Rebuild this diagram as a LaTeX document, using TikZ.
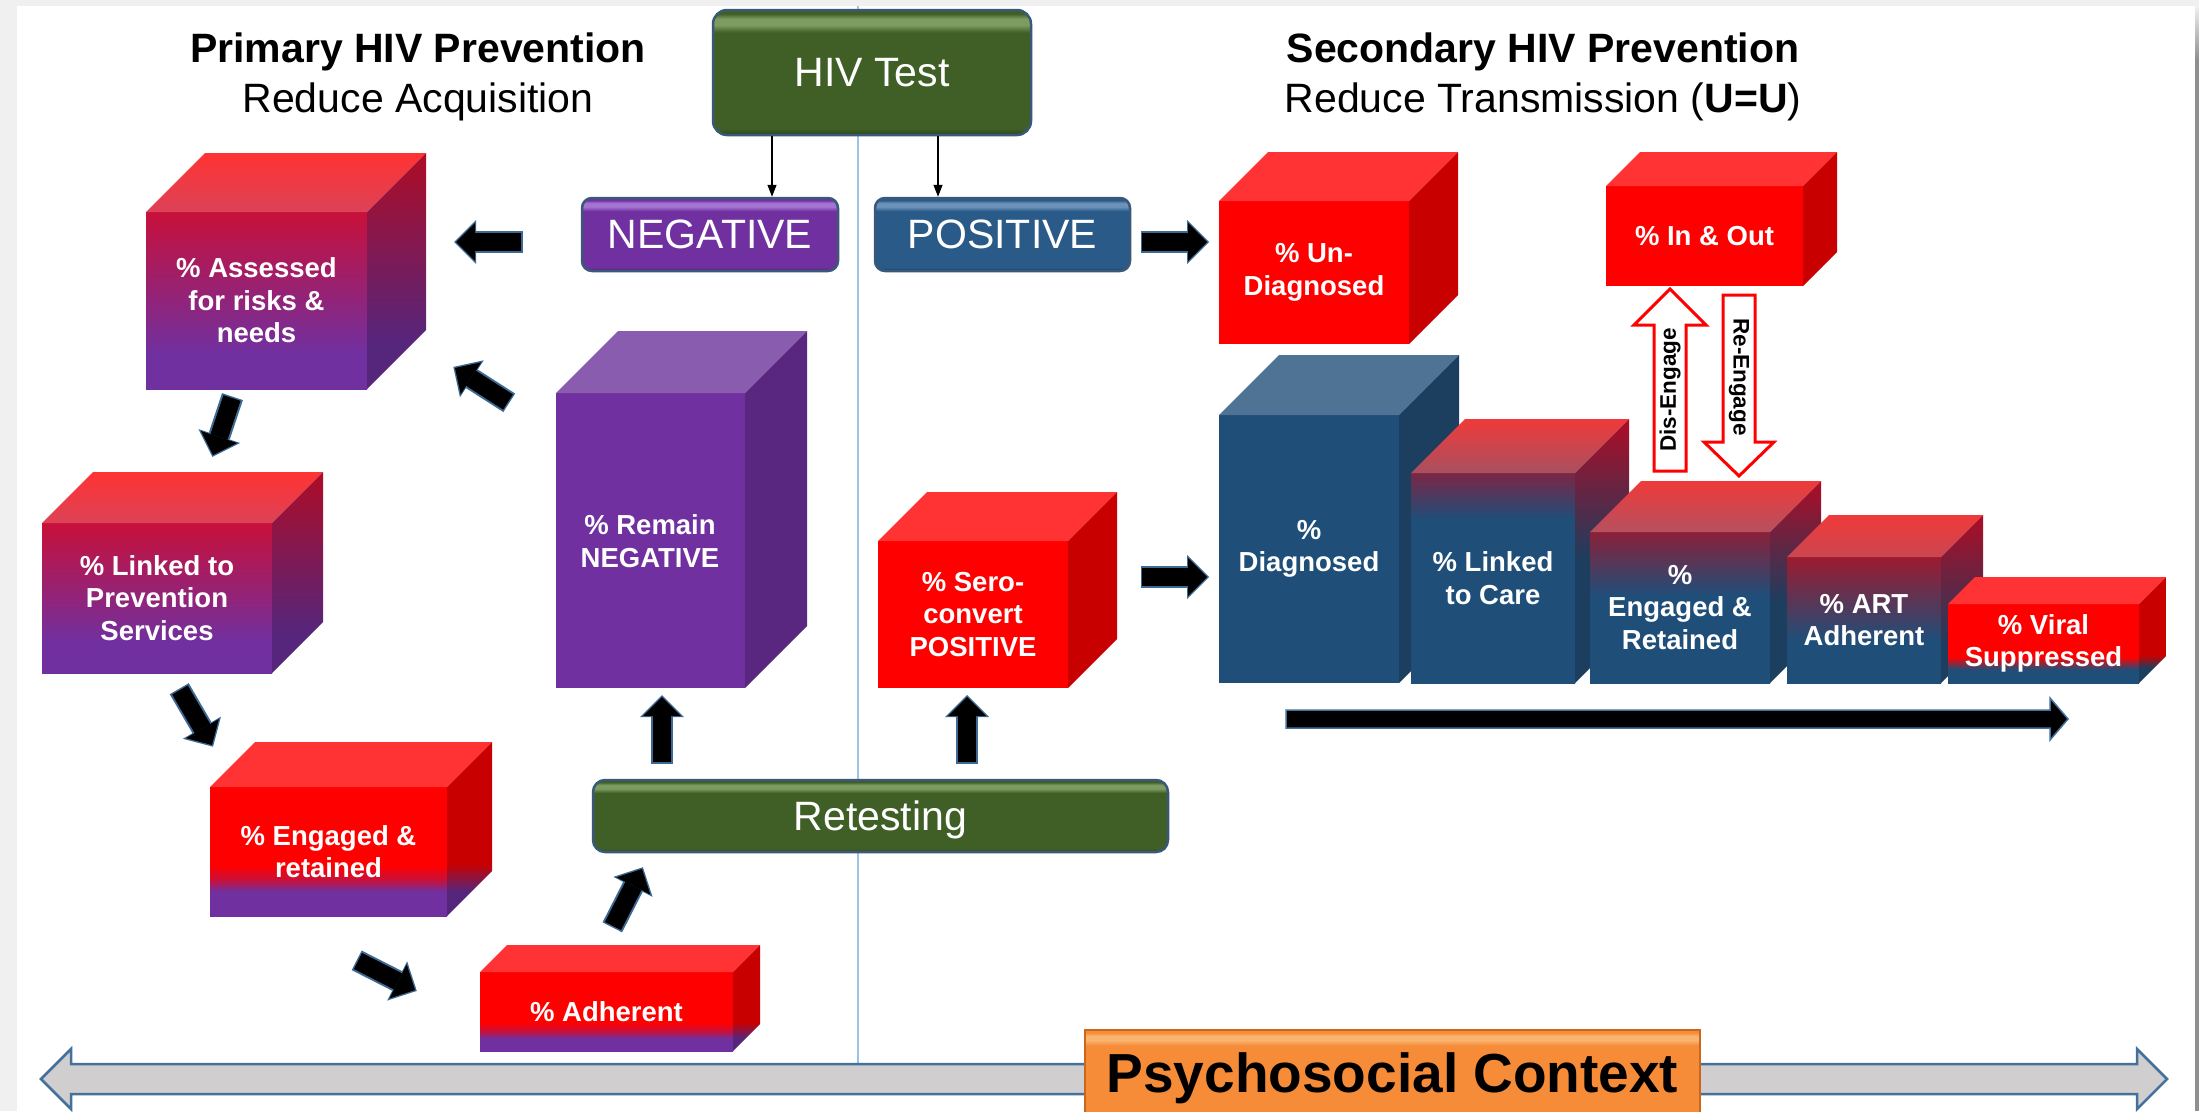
\documentclass[tikz,border=0pt]{standalone}
\usepackage{fontspec}
\setmainfont{Liberation Sans}
\usetikzlibrary{arrows.meta}

\definecolor{cPurple}{HTML}{7030A0}
\definecolor{cCrimson}{HTML}{C8103A}
\definecolor{cRed}{HTML}{FF0000}
\definecolor{cRedTop}{HTML}{FF3333}
\definecolor{cRedSide}{HTML}{C80000}
\definecolor{cPink}{HTML}{DC4257}
\definecolor{cSidePurple}{HTML}{56267C}
\definecolor{cSideCrimson}{HTML}{AE0C26}
\definecolor{cBlue}{HTML}{1F4E79}
\definecolor{cBlueTop}{HTML}{4E7394}
\definecolor{cBlueSide}{HTML}{1C3E5F}
\definecolor{cMaroonA}{HTML}{7B2646}
\definecolor{cMaroonB}{HTML}{8A2039}
\definecolor{cMaroonC}{HTML}{9C1B2F}
\definecolor{cTopBright}{HTML}{F03A3A}
\definecolor{cTopMutedA}{HTML}{A8505F}
\definecolor{cTopMutedB}{HTML}{B5505E}
\definecolor{cTopMutedC}{HTML}{CB4650}
\definecolor{cPurTop}{HTML}{8A5CB0}
\definecolor{cPurSide}{HTML}{5A2780}
\definecolor{cGreen}{HTML}{3F5F26}
\definecolor{cGreenL}{HTML}{7D9C62}
\definecolor{cGreenD}{HTML}{2C4519}
\definecolor{cVio}{HTML}{7030A0}
\definecolor{cVioL}{HTML}{A474D2}
\definecolor{cVioD}{HTML}{562080}
\definecolor{cNavy}{HTML}{2A5A88}
\definecolor{cNavyL}{HTML}{6C92BA}
\definecolor{cNavyD}{HTML}{1D4266}
\definecolor{cOrange}{HTML}{F68B38}
\definecolor{cOrangeL}{HTML}{FBB470}
\definecolor{cOrangeD}{HTML}{C9671E}
\definecolor{cBoxEdge}{HTML}{3A5877}
\definecolor{cArrowEdge}{HTML}{3D6A94}
\definecolor{cGrayFill}{HTML}{D0CECE}
\definecolor{cGrayEdge}{HTML}{41719C}
\definecolor{cDivider}{HTML}{9DC3E6}
\definecolor{cFrame}{HTML}{F0F0F0}
\definecolor{cRightBar}{HTML}{8F8F8F}

\newcommand\mkbevel[4]{\pgfdeclareverticalshading{#1}{100bp}{color(0bp)=(#4); color(25bp)=(#4); color(27.5bp)=(#2); color(66bp)=(#2); color(69bp)=(#3); color(71.5bp)=(#3); color(73.5bp)=(#2); color(100bp)=(#2)}}
\mkbevel{greenbevel}{cGreen}{cGreenL}{cGreenD}
\mkbevel{purplebevel}{cVio}{cVioL}{cVioD}
\mkbevel{bluebevel}{cNavy}{cNavyL}{cNavyD}
\mkbevel{orangebevel}{cOrange}{cOrangeL}{cOrangeD}

\pgfdeclareverticalshading{rpFront}{100bp}{color(0bp)=(cPurple); color(35bp)=(cPurple); color(75bp)=(cCrimson); color(100bp)=(cCrimson)}
\pgfdeclareverticalshading{rpTop}{100bp}{color(0bp)=(cPink); color(25bp)=(cPink); color(75bp)=(cRedTop); color(100bp)=(cRedTop)}
\pgfdeclareverticalshading{rpSide}{100bp}{color(0bp)=(cSidePurple); color(35bp)=(cSidePurple); color(75bp)=(cSideCrimson); color(100bp)=(cSideCrimson)}
\pgfdeclareverticalshading{erFront}{100bp}{color(0bp)=(cPurple); color(34.5bp)=(cPurple); color(39bp)=(cCrimson); color(44.5bp)=(cRed); color(100bp)=(cRed)}
\pgfdeclareverticalshading{erSide}{100bp}{color(0bp)=(cSidePurple); color(32bp)=(cSidePurple); color(40bp)=(cRedSide); color(100bp)=(cRedSide)}
\pgfdeclareverticalshading{adFront}{100bp}{color(0bp)=(cPurple); color(33bp)=(cPurple); color(37.5bp)=(cCrimson); color(43bp)=(cRed); color(100bp)=(cRed)}
\pgfdeclareverticalshading{adSide}{100bp}{color(0bp)=(cSidePurple); color(31bp)=(cSidePurple); color(38.5bp)=(cRedSide); color(100bp)=(cRedSide)}
\pgfdeclareverticalshading{lcFront}{100bp}{color(0bp)=(cBlue); color(64bp)=(cBlue); color(75bp)=(cMaroonA); color(100bp)=(cMaroonA)}
\pgfdeclareverticalshading{lcTop}{100bp}{color(0bp)=(cTopMutedA); color(25bp)=(cTopMutedA); color(75bp)=(cTopBright); color(100bp)=(cTopBright)}
\pgfdeclareverticalshading{lcSide}{100bp}{color(0bp)=(cBlueSide); color(48bp)=(cBlueSide); color(75bp)=(cSideCrimson); color(100bp)=(cSideCrimson)}
\pgfdeclareverticalshading{eRFront}{100bp}{color(0bp)=(cBlue); color(54bp)=(cBlue); color(75bp)=(cMaroonB); color(100bp)=(cMaroonB)}
\pgfdeclareverticalshading{eRTop}{100bp}{color(0bp)=(cTopMutedB); color(25bp)=(cTopMutedB); color(75bp)=(cTopBright); color(100bp)=(cTopBright)}
\pgfdeclareverticalshading{eRSide}{100bp}{color(0bp)=(cBlueSide); color(45bp)=(cBlueSide); color(75bp)=(cSideCrimson); color(100bp)=(cSideCrimson)}
\pgfdeclareverticalshading{artFront}{100bp}{color(0bp)=(cBlue); color(42bp)=(cBlue); color(75bp)=(cMaroonC); color(100bp)=(cMaroonC)}
\pgfdeclareverticalshading{artTop}{100bp}{color(0bp)=(cTopMutedC); color(25bp)=(cTopMutedC); color(75bp)=(cTopBright); color(100bp)=(cTopBright)}
\pgfdeclareverticalshading{artSide}{100bp}{color(0bp)=(cBlueSide); color(35bp)=(cBlueSide); color(75bp)=(cSideCrimson); color(100bp)=(cSideCrimson)}
\pgfdeclareverticalshading{vsFront}{100bp}{color(0bp)=(cBlue); color(33.5bp)=(cBlue); color(41.5bp)=(cRed); color(100bp)=(cRed)}
\pgfdeclareverticalshading{vsSide}{100bp}{color(0bp)=(cBlueSide); color(32bp)=(cBlueSide); color(38bp)=(cRedSide); color(100bp)=(cRedSide)}

\newcommand\cubefont{\fontsize{27.5}{32.5}\selectfont\bfseries}
\newcommand\titlefont{\fontsize{41}{49}\selectfont}

\tikzset{
  cubeface/.style={rectangle, inner sep=0pt, outer sep=0pt, align=center, text=white, font=\cubefont},
  cubetext/.style={inner sep=0pt, align=center, text=white, font=\cubefont},
  rp front/.style={shade, shading=rpFront}, rp top/.style={shade, shading=rpTop}, rp side/.style={shade, shading=rpSide},
  er front/.style={shade, shading=erFront}, er top/.style={fill=cRedTop}, er side/.style={shade, shading=erSide},
  ad front/.style={shade, shading=adFront}, ad top/.style={fill=cRedTop}, ad side/.style={shade, shading=adSide},
  red front/.style={fill=cRed}, red top/.style={fill=cRedTop}, red side/.style={fill=cRedSide},
  pur front/.style={fill=cPurple}, pur top/.style={fill=cPurTop}, pur side/.style={fill=cPurSide},
  blu front/.style={fill=cBlue}, blu top/.style={fill=cBlueTop}, blu side/.style={fill=cBlueSide},
  lc front/.style={shade, shading=lcFront}, lc top/.style={shade, shading=lcTop}, lc side/.style={shade, shading=lcSide},
  eR front/.style={shade, shading=eRFront}, eR top/.style={shade, shading=eRTop}, eR side/.style={shade, shading=eRSide},
  art front/.style={shade, shading=artFront}, art top/.style={shade, shading=artTop}, art side/.style={shade, shading=artSide},
  vs front/.style={shade, shading=vsFront}, vs top/.style={fill=cRedTop}, vs side/.style={shade, shading=vsSide},
  rbox/.style={rectangle, draw=cBoxEdge, line width=2.5pt, text=white, text depth=0pt, inner sep=0pt,
    font=\fontsize{41}{49}\selectfont, shade},
  thinarrow/.style={draw=black, line width=1.3pt, -{Triangle[width=9pt,length=12pt]}},
  blkO/.style={draw=cArrowEdge, line width=22pt, -{Triangle[width=44pt,length=22pt,line width=0pt]}, shorten >=-2pt, shorten <=-1.5pt},
  blk/.style={draw=black, line width=18pt, -{Triangle[width=38pt,length=19pt,line width=0pt]}},
  hollowarrow/.style={draw=cRed, line width=3pt, fill=white, line join=miter},
  engtext/.style={inner sep=0pt, text=black, font=\fontsize{22.5}{27}\selectfont\bfseries},
}

\newcommand\mkcube[8]{%
  \node[cubeface, #7 front, minimum width={(#4)-(#2)}, minimum height={(#5)-(#3)}] (#1) at ({((#2)+(#4))/2},{((#3)+(#5))/2}) {#8};
  \path[#7 top] (#1.north west) -- ++(#6,-#6) -- ++({(#4)-(#2)},0) -- (#1.north east) -- cycle;
  \path[#7 side] (#1.north east) -- ++(#6,-#6) -- ++(0,{(#5)-(#3)}) -- (#1.south east) -- cycle;}
\newcommand\barrow[2]{\draw[blkO] (#1) -- (#2); \draw[blk] (#1) -- (#2);}

\begin{document}
\begin{tikzpicture}[x=1pt,y=-1pt]
\useasboundingbox (0,0) rectangle (2199,1111);
\clip (0,0) rectangle (2199,1111);
\fill[white] (0,0) rectangle (2199,1111);
\fill[cFrame] (0,0) rectangle (2199,6);
\fill[cFrame] (0,0) rectangle (17,1111);
\shade[top color=cFrame, bottom color=cRightBar] (2195,6) rectangle (2199,60);
\fill[cRightBar] (2195,60) rectangle (2199,1111);

% divider
\coordinate (divtop) at (858,6);
\coordinate (divbot) at (858,1068);
\draw[cDivider, line width=1.5pt] (divtop) -- (divbot);

% titles
\node[font=\titlefont, anchor=base, inner sep=0pt] (t1a) at (418,62) {\bfseries Primary HIV Prevention};
\node[font=\titlefont, anchor=base, inner sep=0pt] (t1b) at (418,112) {Reduce Acquisition};
\node[font=\titlefont, anchor=base, inner sep=0pt] (t2a) at (1543,62) {\bfseries Secondary HIV Prevention};
\node[font=\titlefont, anchor=base, inner sep=0pt] (t2b) at (1543,112) {Reduce Transmission (\textbf{U=U})};

% test boxes
\node[rbox, shading=greenbevel, rounded corners=14pt, minimum width=318pt, minimum height=125pt] (hiv) at (872,72.5) {HIV Test};
\node[rbox, shading=purplebevel, rounded corners=10pt, minimum width=256pt, minimum height=73pt] (neg) at (710,234.5) {NEGATIVE};
\node[rbox, shading=bluebevel, rounded corners=10pt, minimum width=255pt, minimum height=73pt] (pos) at (1002.5,234.5) {POSITIVE};
\coordinate (nx) at (772,0);
\coordinate (px) at (938,0);
\draw[thinarrow] (nx |- hiv.south) -- (nx |- neg.north);
\draw[thinarrow] (px |- hiv.south) -- (px |- pos.north);

% primary prevention cubes
\mkcube{assess}{146}{212}{367}{389}{59}{rp}{\% Assessed\\for risks \&\\needs}
\mkcube{linkprev}{42}{523}{272}{673}{51}{rp}{\% Linked to\\Prevention\\Services}
\mkcube{engret}{210}{787}{447}{916}{45}{er}{\% Engaged \&\\retained}
\mkcube{adher}{480}{972}{733}{1051}{27}{ad}{\% Adherent}
\mkcube{remain}{556}{393}{745}{688}{62}{pur}{}
\node[cubetext] (remaintxt) at (650,541) {\% Remain\\NEGATIVE};
\mkcube{sero}{878}{541}{1068}{688}{49}{red}{\% Sero-\\convert\\POSITIVE}

% secondary prevention cubes
\mkcube{undiag}{1219}{201}{1409}{344}{49}{red}{\% Un-\\Diagnosed}
\mkcube{inout}{1606}{186}{1803}{286}{34}{red}{\% In \& Out}
\mkcube{diag}{1219}{415}{1399}{683}{60}{blu}{\%\\Diagnosed}
\mkcube{linkcare}{1411}{473}{1575}{683}{54}{lc}{\% Linked\\to Care}
\mkcube{engR}{1590}{532}{1770}{683}{51}{eR}{\%\\Engaged \&\\Retained}
\mkcube{art}{1787}{557}{1941}{683}{42}{art}{\% ART\\Adherent}
\mkcube{viral}{1948}{604}{2139}{683}{27}{vs}{\% Viral\\Suppressed}

% retesting
\node[rbox, shading=greenbevel, rounded corners=12pt, minimum width=575pt, minimum height=72pt] (retest) at (880.5,816) {Retesting};

% block arrows
\coordinate (a1s) at (521,242);  \coordinate (a1e) at (456,242);
\coordinate (a2s) at (508,402);  \coordinate (a2e) at (455,368);
\coordinate (a3s) at (232,398);  \coordinate (a3e) at (213,455);
\coordinate (a4s) at (180,690);  \coordinate (a4e) at (212,745);
\coordinate (a5s) at (358,961);  \coordinate (a5e) at (415,990);
\coordinate (a6s) at (613,926);  \coordinate (a6e) at (642,869);
\coordinate (a7s) at (662,762);  \coordinate (a7e) at (662,697);
\coordinate (a8s) at (967,762);  \coordinate (a8e) at (967,697);
\coordinate (a9s) at (1142,242); \coordinate (a9e) at (1207,242);
\coordinate (a10s) at (1142,577); \coordinate (a10e) at (1207,577);
\barrow{a1s}{a1e}
\barrow{a2s}{a2e}
\barrow{a3s}{a3e}
\barrow{a4s}{a4e}
\barrow{a5s}{a5e}
\barrow{a6s}{a6e}
\barrow{a7s}{a7e}
\barrow{a8s}{a8e}
\barrow{a9s}{a9e}
\barrow{a10s}{a10e}

% dis-engage / re-engage
\coordinate (dis0) at (1670,471);
\draw[hollowarrow] (dis0) ++(-16,0) -- ++(0,-146) -- ++(-20,0) -- ++(36,-36) -- ++(36,36) -- ++(-20,0) -- ++(0,146) -- cycle;
\node[engtext, rotate=90] (distxt) at (1670,390) {Dis-Engage};
\coordinate (re0) at (1739,295);
\draw[hollowarrow] (re0) ++(-16,0) -- ++(0,147) -- ++(-19,0) -- ++(35,34) -- ++(35,-34) -- ++(-19,0) -- ++(0,-147) -- cycle;
\node[engtext, rotate=-90] (retxt) at (1739,377) {Re-Engage};

% cascade arrow
\coordinate (flowS) at (1286,719);
\filldraw[fill=black, draw=cGrayEdge, line width=1.5pt] (flowS) ++(0,-9) -- ++(764,0) -- ++(0,-12) -- ++(18,21) -- ++(-18,21) -- ++(0,-12) -- ++(-764,0) -- cycle;

% psychosocial context
\coordinate (ctxL) at (41,1079);
\filldraw[fill=cGrayFill, draw=cGrayEdge, line width=2.5pt, line join=miter] (ctxL) -- ++(30,-30) -- ++(0,15) -- ++(2066,0) -- ++(0,-15) -- ++(30,30) -- ++(-30,30) -- ++(0,-15) -- ++(-2066,0) -- ++(0,15) -- cycle;
\node[rectangle, shade, shading=orangebevel, draw=cOrangeD, line width=1.5pt, inner sep=0pt, text=black, text depth=0pt,
  font=\fontsize{55}{60}\selectfont\bfseries, minimum width=615pt, minimum height=86pt] (psy) at (1392.5,1073) {Psychosocial Context};
\end{tikzpicture}
\end{document}
